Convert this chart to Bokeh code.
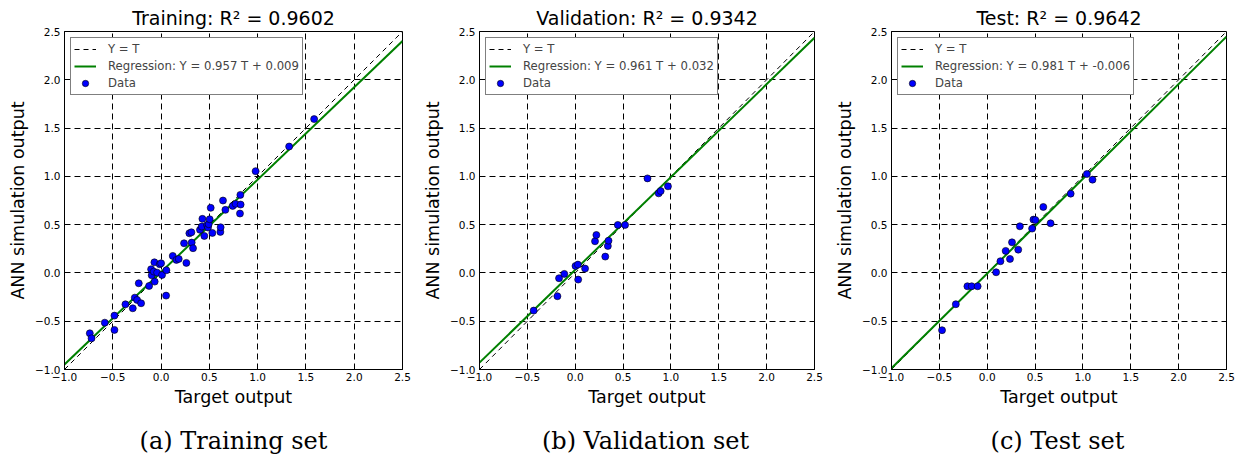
from bokeh.plotting import figure
from bokeh.layouts import row, column
from bokeh.models import Range1d, FixedTicker, Legend, LegendItem, Label
from bokeh.embed import file_html
from bokeh.resources import INLINE

# ---------------- data ----------------
tick_values = [-1.0, -0.5, 0.0, 0.5, 1.0, 1.5, 2.0, 2.5]
tick_labels = ["\u22121.0", "\u22120.5", "0.0", "0.5", "1.0", "1.5", "2.0", "2.5"]
axis_limits = [-1.0, 2.5]

titles = ["Training: R\u00b2 = 0.9602", "Validation: R\u00b2 = 0.9342", "Test: R\u00b2 = 0.9642"]
captions = ["(a) Training set", "(b) Validation set", "(c) Test set"]
slopes = [0.957, 0.961, 0.981]
intercepts = [0.009, 0.032, -0.006]
reg_labels = ["Regression: Y = 0.957 T + 0.009",
              "Regression: Y = 0.961 T + 0.032",
              "Regression: Y = 0.981 T + -0.006"]

train_target = [-0.738, -0.72, -0.583, -0.483, -0.483, -0.369, -0.293, -0.272, -0.248, -0.231,
                -0.207, -0.124, -0.103, -0.097, -0.069, -0.076, -0.066, -0.041, -0.014, 0.0,
                0.01, 0.055, 0.052, 0.121, 0.159, 0.183, 0.238, 0.262, 0.293, 0.314,
                0.317, 0.331, 0.403, 0.421, 0.428, 0.448, 0.476, 0.486, 0.493, 0.503,
                0.514, 0.531, 0.614, 0.617, 0.641, 0.666, 0.741, 0.772, 0.817, 0.821,
                0.824, 0.979, 1.326, 1.585]
train_output = [-0.625, -0.677, -0.515, -0.442, -0.59, -0.325, -0.366, -0.256, -0.28, -0.107,
                -0.314, -0.135, 0.038, -0.024, 0.11, 0.014, -0.09, 0.003, 0.09, 0.1,
                -0.021, 0.028, -0.235, 0.176, 0.135, 0.145, 0.307, 0.104, 0.411, 0.421,
                0.314, 0.256, 0.446, 0.48, 0.56, 0.383, 0.497, 0.47, 0.504, 0.556,
                0.674, 0.414, 0.425, 0.473, 0.75, 0.653, 0.694, 0.715, 0.615, 0.808,
                0.708, 1.054, 1.309, 1.593]

val_target = [-0.434, -0.186, -0.169, -0.114, 0.003, 0.028, 0.031, 0.103, 0.207, 0.221,
              0.314, 0.341, 0.348, 0.445, 0.521, 0.755, 0.872, 0.893, 0.969]
val_output = [-0.39, -0.241, -0.055, -0.01, 0.072, 0.086, -0.069, 0.045, 0.328, 0.393,
              0.169, 0.279, 0.334, 0.497, 0.497, 0.979, 0.824, 0.848, 0.897]

test_target = [-0.472, -0.328, -0.207, -0.162, -0.1, 0.093, 0.138, 0.193, 0.238, 0.259,
               0.324, 0.341, 0.469, 0.483, 0.503, 0.586, 0.662, 0.872, 1.041, 1.1]
test_output = [-0.593, -0.324, -0.138, -0.138, -0.138, 0.007, 0.121, 0.228, 0.145, 0.317,
               0.241, 0.483, 0.459, 0.552, 0.548, 0.683, 0.514, 0.821, 1.024, 0.966]

targets = [train_target, val_target, test_target]
outputs = [train_output, val_output, test_output]

# ---------------- plotting ----------------
overrides = {v: l for v, l in zip(tick_values, tick_labels)}
widths = [420, 412, 411]
lefts = [64, 56, 56]
rights = [18, 18, 17]
FRAME = 338
PLOT_H = 420
CAP_H = 37
figs = []
caps = []
for i in range(3):
    p = figure(width=widths[i], height=PLOT_H,
               min_border_left=lefts[i], min_border_right=rights[i],
               min_border_top=31, min_border_bottom=PLOT_H - 31 - FRAME,
               x_range=Range1d(*axis_limits), y_range=Range1d(*axis_limits),
               output_backend="svg", toolbar_location=None)
    p.outline_line_color = "black"
    p.outline_line_width = 1
    p.background_fill_color = "white"
    p.border_fill_color = "white"

    p.title.text = titles[i]
    p.title.align = "center"
    p.title.text_font = "DejaVu Sans"
    p.title.text_font_size = "19px"
    p.title.text_font_style = "normal"
    p.title.text_color = "black"
    p.title.standoff = 5

    for ax in (p.xaxis[0], p.yaxis[0]):
        ax.ticker = FixedTicker(ticks=tick_values)
        ax.major_label_overrides = overrides
        ax.major_tick_in = 4
        ax.major_tick_out = 0
        ax.minor_tick_in = 0
        ax.minor_tick_out = 0
        ax.major_label_text_font = "DejaVu Sans"
        ax.major_label_text_font_size = "10.5px"
        ax.major_label_text_color = "black"
        ax.axis_label_text_font = "DejaVu Sans"
        ax.axis_label_text_font_size = "17.5px"
        ax.axis_label_text_font_style = "normal"
        ax.axis_label_text_color = "black"
        ax.axis_line_color = "black"
        ax.major_tick_line_color = "black"
    p.xaxis[0].axis_label = "Target output"
    p.xaxis[0].major_label_standoff = 3
    p.xaxis[0].axis_label_standoff = 3
    p.yaxis[0].axis_label = "ANN simulation output"
    p.yaxis[0].major_label_standoff = 4
    p.yaxis[0].axis_label_standoff = 4

    for g in (p.xgrid[0], p.ygrid[0]):
        g.ticker = FixedTicker(ticks=tick_values)
        g.grid_line_color = "black"
        g.grid_line_dash = "6 4"
        g.grid_line_width = 1

    r_id = p.line(axis_limits, axis_limits, line_color="black", line_dash="5 4", line_width=1)
    reg_y = [slopes[i] * v + intercepts[i] for v in axis_limits]
    r_reg = p.line(axis_limits, reg_y, line_color="#008000", line_width=2)
    r_pts = p.scatter(targets[i], outputs[i], size=7, fill_color="#0000ff",
                      line_color="black", line_width=0.6)

    legend = Legend(items=[LegendItem(label="Y = T", renderers=[r_id]),
                           LegendItem(label=reg_labels[i], renderers=[r_reg]),
                           LegendItem(label="Data", renderers=[r_pts])],
                    location="top_left")
    legend.margin = 6
    legend.padding = 3
    legend.spacing = 1
    legend.label_height = 16
    legend.glyph_height = 16
    legend.glyph_width = 22
    legend.label_standoff = 12
    legend.label_text_font = "DejaVu Sans"
    legend.label_text_font_size = "11.7px"
    legend.border_line_color = "black"
    legend.border_line_width = 1
    legend.background_fill_alpha = 1.0
    p.add_layout(legend)
    figs.append(p)

    # caption strip under each panel
    c = figure(width=widths[i], height=CAP_H, min_border=0,
               x_axis_type=None, y_axis_type=None,
               x_range=Range1d(0, 1), y_range=Range1d(0, 1),
               output_backend="svg", toolbar_location=None)
    c.outline_line_color = None
    c.grid.visible = False
    c.background_fill_color = "white"
    c.border_fill_color = "white"
    c.add_layout(Label(x=lefts[i] + FRAME / 2, y=CAP_H - 20, x_units="screen", y_units="screen",
                       text=captions[i], text_align="center", text_baseline="middle",
                       text_font="DejaVu Serif", text_font_size="24px", text_color="black"))
    caps.append(c)

layout = column(row(*figs, spacing=0), row(*caps, spacing=0), spacing=0)
open("out.html", "w").write(file_html(layout, INLINE))
